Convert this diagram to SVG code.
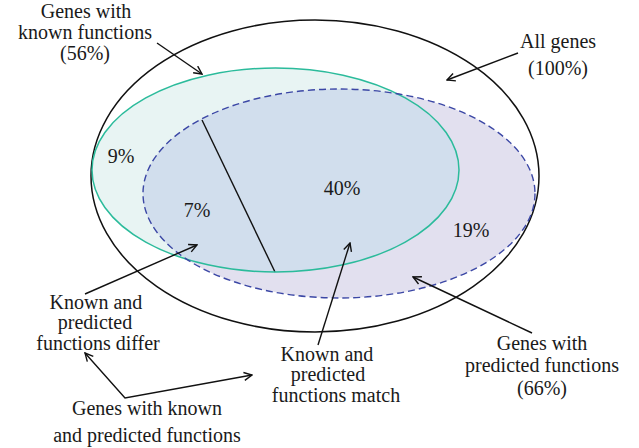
<svg xmlns="http://www.w3.org/2000/svg" width="639" height="448" viewBox="0 0 639 448">
<style>
.t{font-size:20px;fill:#1a1a1a;text-anchor:middle}
.con{fill:none;stroke:#111;stroke-width:1.4}
</style>
<defs>
<marker id="ah" viewBox="0 0 10 10" refX="9" refY="5" markerWidth="10" markerHeight="10" markerUnits="userSpaceOnUse" orient="auto-start-reverse">
<path d="M1,1 L9,5 L1,9" fill="none" stroke="#111" stroke-width="1.4"/>
</marker>
<clipPath id="blueclip"><ellipse cx="339" cy="193.5" rx="196" ry="104.5"/></clipPath>
</defs>
<rect width="639" height="448" fill="#fff"/>
<g id="all-genes">
<ellipse cx="315" cy="176" rx="224" ry="156" fill="none" stroke="#111" stroke-width="1.5"/>
</g>
<g id="known">
<ellipse cx="275.5" cy="170" rx="183.5" ry="102" fill="#e8f4f3"/>
</g>
<g id="predicted">
<ellipse cx="339" cy="193.5" rx="196" ry="104.5" fill="#e2e0ef"/>
</g>
<g id="overlap">
<ellipse cx="275.5" cy="170" rx="183.5" ry="102" fill="#d1deed" clip-path="url(#blueclip)"/>
<line x1="202" y1="120" x2="275" y2="272" stroke="#111" stroke-width="1.4"/>
</g>
<g id="outlines">
<ellipse cx="275.5" cy="170" rx="183.5" ry="102" fill="none" stroke="#2bbb9b" stroke-width="1.5"/>
<ellipse cx="339" cy="193.5" rx="196" ry="104.5" fill="none" stroke="#3b47a5" stroke-width="1.4" stroke-dasharray="7 4"/>
</g>
<g id="labels" font-family="Liberation Serif, Times New Roman, serif">
<g id="all-label">
<text class="t" x="558" y="48">All genes</text>
<text class="t" x="558" y="75">(100%)</text>
</g>
<g id="known-label">
<text class="t" x="86" y="18">Genes with</text>
<text class="t" x="85" y="39">known functions</text>
<text class="t" x="85" y="60">(56%)</text>
</g>
<g id="pct">
<text class="t" x="121" y="163">9%</text>
<text class="t" x="197" y="217">7%</text>
<text class="t" x="342" y="195">40%</text>
<text class="t" x="471" y="237">19%</text>
</g>
<g id="differ-label">
<text class="t" x="96" y="309">Known and</text>
<text class="t" x="95" y="329">predicted</text>
<text class="t" x="98" y="350">functions differ</text>
</g>
<g id="match-label">
<text class="t" x="327" y="361">Known and</text>
<text class="t" x="328" y="381">predicted</text>
<text class="t" x="336" y="402">functions match</text>
</g>
<g id="predicted-label">
<text class="t" x="542" y="350">Genes with</text>
<text class="t" x="542" y="372">predicted functions</text>
<text class="t" x="542" y="395">(66%)</text>
</g>
<g id="both-label">
<text class="t" x="147" y="415">Genes with known</text>
<text class="t" x="147" y="442">and predicted functions</text>
</g>
</g>
<g id="connectors">
<line class="con" x1="157" y1="43" x2="202" y2="74" marker-end="url(#ah)"/>
<line class="con" x1="518" y1="53" x2="447" y2="80" marker-end="url(#ah)"/>
<line class="con" x1="85" y1="294" x2="197" y2="245" marker-end="url(#ah)"/>
<path class="con" d="M85,353 L125,398 L252,375" marker-start="url(#ah)" marker-end="url(#ah)"/>
<line class="con" x1="318" y1="345" x2="350" y2="243" marker-end="url(#ah)"/>
<line class="con" x1="532" y1="333" x2="413" y2="277" marker-end="url(#ah)"/>
</g>
</svg>
